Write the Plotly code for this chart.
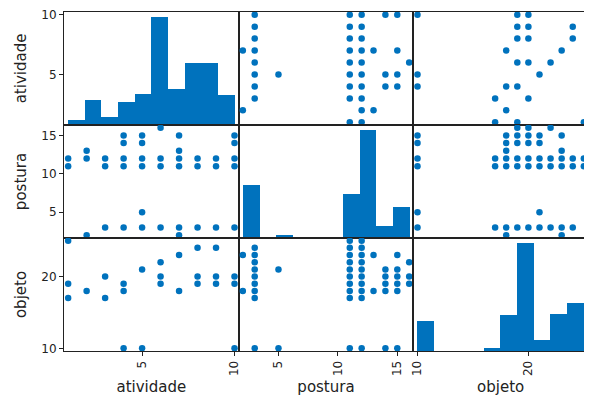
import numpy as np
import plotly.graph_objects as go
from plotly.subplots import make_subplots

# ---- data ----
variables = ["atividade", "postura", "objeto"]
var_min = {"atividade": 1, "postura": 2, "objeto": 10}
var_max = {"atividade": 10, "postura": 16, "objeto": 25}

# histogram counts (10 bins each)
hist_atividade = [3, 16, 5, 15, 20, 69, 23, 40, 40, 19]
hist_postura = [53, 0, 3, 0, 0, 0, 44, 107, 12, 31]
hist_objeto = [27, 0, 0, 0, 3, 33, 98, 10, 34, 44]

# observed pairs
ap_atividade = [1, 1, 2, 2, 2, 3, 3, 3, 4, 4, 4, 4, 4, 5, 5, 5, 5, 5, 5, 6, 6, 6, 6,
                7, 7, 7, 7, 7, 7, 8, 8, 8, 9, 9, 9, 10, 10, 10, 10, 10]
ap_postura = [11, 12, 2, 12, 13, 3, 11, 12, 3, 11, 12, 14, 15, 3, 5, 11, 12, 14, 15, 3, 11, 12, 16,
              2, 3, 11, 12, 13, 15, 3, 11, 12, 3, 11, 12, 3, 11, 12, 14, 15]

ao_atividade = [1, 1, 1, 2, 3, 3, 4, 4, 4, 5, 5, 6, 6, 6, 7, 7, 8, 8, 8, 9, 9, 9, 10, 10, 10]
ao_objeto = [17, 19, 25, 18, 17, 20, 10, 18, 19, 10, 21, 19, 20, 22, 18, 23, 19, 20, 24, 19, 20, 24, 10, 19, 20]

po_postura = ([2, 2] + [3] * 9 + [5, 5] + [11] * 10 + [12] * 10 + [13, 13]
              + [14] * 5 + [15] * 6 + [16] * 3)
po_objeto = ([18, 23] + [10, 17, 18, 19, 20, 21, 22, 23, 24] + [10, 21]
             + [10, 17, 18, 19, 20, 21, 22, 23, 24, 25]
             + [10, 17, 18, 19, 20, 21, 22, 23, 24, 25]
             + [18, 23] + [10, 18, 19, 20, 21] + [10, 18, 19, 20, 21, 23] + [19, 20, 22])

hists = {"atividade": hist_atividade, "postura": hist_postura, "objeto": hist_objeto}
pairs = {
    ("atividade", "postura"): (ap_atividade, ap_postura),
    ("atividade", "objeto"): (ao_atividade, ao_objeto),
    ("postura", "objeto"): (po_postura, po_objeto),
}
ticks = {"atividade": [5, 10], "postura": [5, 10, 15], "objeto": [10, 20]}

BLUE = "rgb(0,114,189)"
FONT = "DejaVu Sans"

def bounds(v):
    lo, hi = var_min[v], var_max[v]
    ext = (hi - lo) * 0.05 / 2
    return [lo - ext, hi + ext]

fig = make_subplots(rows=3, cols=3, horizontal_spacing=0, vertical_spacing=0)

for i, a in enumerate(variables):       # row -> y variable
    for j, b in enumerate(variables):   # col -> x variable
        r, c = i + 1, j + 1
        if i == j:
            counts = hists[a]
            edges = np.linspace(var_min[a], var_max[a], len(counts) + 1)
            centers = (edges[:-1] + edges[1:]) / 2
            fig.add_trace(go.Bar(x=centers, y=counts, width=edges[1] - edges[0],
                                 marker=dict(color=BLUE, line=dict(width=0)),
                                 showlegend=False, hoverinfo="skip"), row=r, col=c)
        else:
            if (b, a) in pairs:
                xs, ys = pairs[(b, a)]
            else:
                ys, xs = pairs[(a, b)]
            fig.add_trace(go.Scatter(x=xs, y=ys, mode="markers",
                                     marker=dict(color=BLUE, size=6.5, line=dict(width=0)),
                                     showlegend=False, hoverinfo="skip"), row=r, col=c)

axis_common = dict(showline=True, mirror=True, linecolor="#222", linewidth=1,
                   showgrid=False, zeroline=False, ticks="outside", ticklen=4,
                   tickwidth=1, tickcolor="#222", ticklabeloverflow="allow",
                   tickfont=dict(family=FONT, size=12, color="#222"))

for i, a in enumerate(variables):
    for j, b in enumerate(variables):
        r, c = i + 1, j + 1
        xa = dict(axis_common, range=bounds(b))
        if r == 3:
            xa.update(tickvals=ticks[b], ticktext=[str(t) for t in ticks[b]], tickangle=-90,
                      title=dict(text=b, font=dict(family=FONT, size=15, color="#222"), standoff=6))
        else:
            xa.update(showticklabels=False, ticks="")
        fig.update_xaxes(xa, row=r, col=c)

        if i == j:
            ymax = max(hists[a]) * 1.05
            ya = dict(axis_common, range=[0, ymax])
            if c == 1:
                lim = bounds(a)
                locs = [t for t in ticks[a] if lim[0] <= t <= lim[1]]
                adj = [(t - lim[0]) / (lim[1] - lim[0]) * ymax for t in locs]
                ya.update(tickvals=adj, ticktext=[str(t) for t in locs],
                          title=dict(text=a, font=dict(family=FONT, size=15, color="#222"), standoff=11))
            else:
                ya.update(showticklabels=False, ticks="")
        else:
            ya = dict(axis_common, range=bounds(a))
            if c == 1:
                ya.update(tickvals=ticks[a], ticktext=[str(t) for t in ticks[a]],
                          title=dict(text=a, font=dict(family=FONT, size=15, color="#222"), standoff=11))
            else:
                ya.update(showticklabels=False, ticks="")
        fig.update_yaxes(ya, row=r, col=c)

fig.update_layout(width=592, height=405,
                  margin=dict(l=56, r=12, t=4, b=62, autoexpand=False),
                  plot_bgcolor="white", paper_bgcolor="white",
                  bargap=0, font=dict(family=FONT, color="#222"))

fig.write_html("out.html")
